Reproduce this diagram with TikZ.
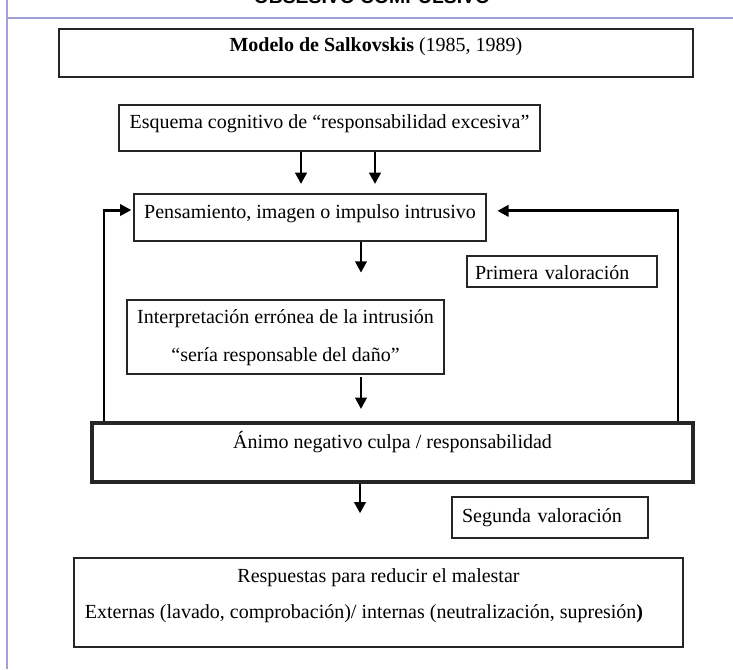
\documentclass[tikz,border=0pt]{standalone}
\usepackage{fontspec}
\setmainfont{Liberation Serif}
\newfontfamily\headsans{Liberation Sans}
\usetikzlibrary{arrows.meta,calc}
\def\pxu{0.75pt}
\newcommand\fs{\fontsize{15pt}{18pt}\selectfont}
\definecolor{lav}{RGB}{160,160,220}
\begin{document}
\begin{tikzpicture}[x=0.75pt,y=-0.75pt,
  box/.style={draw=black!85, line width=1pt, inner sep=0pt, font=\fs, align=center},
  arr/.style={line width=2.2pt, -{Triangle[length=8.5pt,width=8.5pt]}},
]
\useasboundingbox (0,0) rectangle (733,669);
\fill[white] (0,0) rectangle (733,669);
% page frame lines
\draw[lav, line width=1.2pt] (7,0) -- (7,669);
\draw[lav, line width=1.2pt] (7,18) -- (733,18);
\begin{scope}
\clip (0,0) rectangle (733,669);
\node[font=\headsans\bfseries\fontsize{14.5pt}{16pt}\selectfont, anchor=base, inner sep=0pt] (head) at (372,3) {OBSESIVO COMPULSIVO};
\end{scope}

% boxes
\node[box, line width=1.2pt, minimum width=634*\pxu, minimum height=48*\pxu, text height=0pt, text depth=3pt] (title) at (376,53)
  {\textbf{Modelo de Salkovskis} (1985, 1989)};
\node[box, minimum width=421*\pxu, minimum height=46*\pxu, text height=0pt, text depth=0pt] (esq) at (329.5,128)
  {Esquema cognitivo de “responsabilidad excesiva”};
\node[box, minimum width=352*\pxu, minimum height=47*\pxu, text height=0.75pt, text depth=0pt] (pens) at (310,217.5)
  {Pensamiento, imagen o impulso intrusivo};
\node[box, align=left, text width=174*\pxu, minimum width=190*\pxu, minimum height=31*\pxu, text height=11.5pt, text depth=0pt] (prim) at (562,271.5)
  {Primera valoración};
\node[box, minimum width=317*\pxu, minimum height=74*\pxu, text height=0pt, text depth=21pt] (interp) at (285.5,337)
  {\begin{tabular}[t]{@{}c@{}}Interpretación errónea de la intrusión\\[10.5pt]“sería responsable del daño”\end{tabular}};
\node[box, line width=3pt, minimum width=601*\pxu, minimum height=59*\pxu, text height=0pt, text depth=6.75pt] (animo) at (392.5,452.5)
  {Ánimo negativo culpa / responsabilidad};
\node[box, align=left, text width=176*\pxu, minimum width=196*\pxu, minimum height=41*\pxu, text height=6.75pt, text depth=0pt] (seg) at (550,517.5)
  {Segunda valoración};
\node[box, minimum width=609*\pxu, minimum height=89*\pxu, text height=0pt, text depth=30.75pt] (resp) at (378.5,602.5)
  {\begin{tabular}[t]{@{}c@{}}Respuestas para reducir el malestar\\[9pt]Externas (lavado, comprobación)/ internas (neutralización, supresión\textbf{)}\hspace*{21.75pt}\end{tabular}};

% connector columns
\coordinate (cA) at (301,0);
\coordinate (cB) at (375,0);
\coordinate (cM) at (361,0);
\coordinate (cN) at (360,0);
\coordinate (cL) at (104,0);
\coordinate (cR) at (678,0);

\draw[arr, shorten >=7pt] (esq.south -| cA) -- (pens.north -| cA);
\draw[arr, shorten >=7pt] (esq.south -| cB) -- (pens.north -| cB);
\draw[arr, shorten >=20pt] (pens.south -| cM) -- (interp.north -| cM);
\draw[arr, shorten <=2pt, shorten >=9pt] (interp.south -| cM) -- (animo.north -| cM);
\draw[arr, shorten >=33pt] (animo.south -| cN) -- (resp.north -| cN);
\draw[arr, shorten >=1.5pt] (animo.north -| cL) |- ([yshift=5.6pt]pens.west);
\draw[arr, shorten >=8pt] (animo.north -| cR) |- ([yshift=5pt]pens.east);
\end{tikzpicture}
\end{document}
